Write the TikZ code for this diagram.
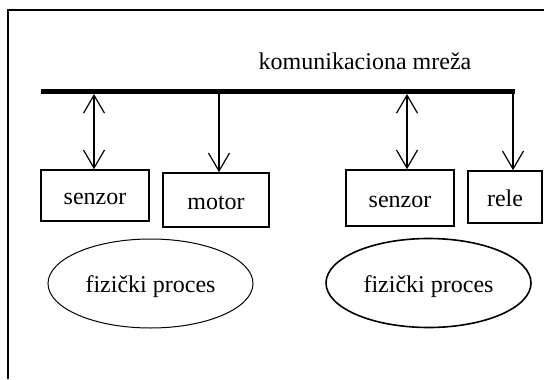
\documentclass[tikz,border=0pt]{standalone}
\usepackage{fontspec}
\setmainfont{Liberation Serif}
\usetikzlibrary{shapes,arrows,positioning,calc,arrows.meta}

\begin{document}
\begin{tikzpicture}[x=0.5pt, y=-0.5pt,
    box/.style={rectangle, draw, line width=0.8pt, inner sep=0pt, text height=2ex, text depth=0pt, font=\fontsize{12}{14}\selectfont},
    proc/.style={ellipse, draw, inner sep=0pt, minimum width=102.5pt, minimum height=44.5pt, text height=2ex, text depth=0pt, font=\fontsize{12}{14}\selectfont},
    arrow/.style={-{Straight Barb[length=9pt, width=10.5pt]}, line width=0.6pt},
    dualarrow/.style={{Straight Barb[length=9pt, width=10.5pt]}-{Straight Barb[length=9pt, width=10.5pt]}, line width=0.6pt}
]
\useasboundingbox (0,0) rectangle (544,379);

% Frame
\draw[line width=1pt] (8,379) -- (8,10.5) -- (544,10.5);

% Network
\node[font=\fontsize{12}{14}\selectfont, anchor=base] (net) at (365,70) {komunikaciona mreža};
\coordinate (busL) at (41,91.5);
\coordinate (busR) at (515,91.5);
\draw[line width=2.5pt] (busL) -- (busR);

% Components
\node[box, minimum width=54pt, minimum height=25.5pt] (senzA) at (95,195.5) {senzor};
\node[box, minimum width=53pt, minimum height=27pt] (motor) at (216,200) {motor};
\node[box, minimum width=54pt, minimum height=28pt] (senzB) at (400,198) {senzor};
\node[box, minimum width=37pt, minimum height=26pt] (rele) at (505,197) {rele};
\node[proc, line width=0.5pt] (procA) at (150.5,283.5) {fizički proces};
\node[proc, line width=0.8pt] (procB) at (428.5,283) {fizički proces};

% Arrows
\coordinate (tapA) at (94,94);
\coordinate (tapM) at (219,94);
\coordinate (tapB) at (407,94);
\coordinate (tapR) at (513,94);
\draw[dualarrow] (tapA) -- (tapA |- senzA.north);
\draw[arrow] (tapM) -- (tapM |- motor.north);
\draw[dualarrow] (tapB) -- (tapB |- senzB.north);
\draw[arrow] (tapR) -- (tapR |- rele.north);

\end{tikzpicture}
\end{document}
